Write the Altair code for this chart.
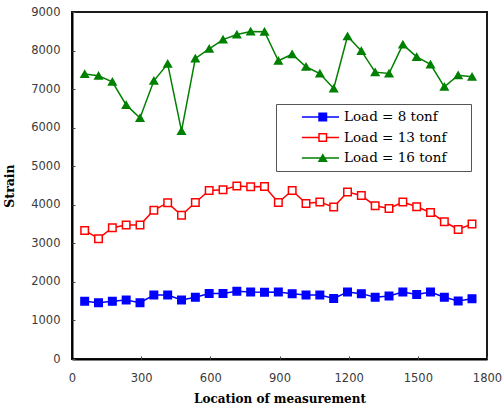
import altair as alt
import pandas as pd

# Measurement locations along the member
locations = [55, 115, 175, 235, 295, 355, 415, 475, 535, 595, 655, 715, 775, 835, 895,
             955, 1015, 1075, 1135, 1195, 1255, 1315, 1375, 1435, 1495, 1555, 1615, 1675, 1735]

# Measured strain for each load case
strain_8 = [1500, 1460, 1495, 1530, 1460, 1660, 1660, 1530, 1600, 1700, 1700, 1760, 1735, 1730, 1735,
            1695, 1660, 1660, 1570, 1735, 1695, 1600, 1635, 1735, 1670, 1735, 1600, 1505, 1565]
strain_13 = [3335, 3120, 3405, 3475, 3475, 3860, 4050, 3730, 4060, 4370, 4390, 4490, 4465, 4475, 4060,
             4370, 4035, 4070, 3940, 4330, 4240, 3975, 3905, 4070, 3950, 3800, 3560, 3360, 3500]
strain_16 = [7390, 7345, 7190, 6590, 6250, 7215, 7655, 5915, 7795, 8045, 8285, 8415, 8495, 8490, 7735,
             7905, 7580, 7405, 7015, 8370, 7990, 7440, 7405, 8155, 7835, 7640, 7060, 7360, 7320]

series_labels = ["Load = 8 tonf", "Load = 13 tonf", "Load = 16 tonf"]
series_keys = ["8", "13", "16"]
line_colors = ["#0000ff", "#ff0000", "#008000"]
marker_fills = ["#0000ff", "#ffffff", "#008000"]
marker_shapes = ["square", "square", "triangle-up"]

x_ticks = [0, 300, 600, 900, 1200, 1500, 1800]
y_ticks = [0, 1000, 2000, 3000, 4000, 5000, 6000, 7000, 8000, 9000]

rows = []
for label, key, values in zip(series_labels, series_keys, [strain_8, strain_13, strain_16]):
    for loc, val in zip(locations, values):
        rows.append({"Location": loc, "Strain": val, "Load": label, "Marker": key})
df = pd.DataFrame(rows)

W, H = 415, 347
LEG_X, LEG_Y = 204, 92

x_scale = alt.Scale(domain=[0, 1800], nice=False, zero=False)
y_scale = alt.Scale(domain=[0, 9000], nice=False, zero=False)

TICK_FONT = "DejaVu Sans"
SERIF = "DejaVu Serif"

base = alt.Chart(df)

# Connecting lines; their legend draws the framed box with line samples and labels
# (blank braille cells pad the right side of the box)
lines = base.mark_line(strokeWidth=1.5).encode(
    x=alt.X("Location:Q", scale=x_scale,
            axis=alt.Axis(values=x_ticks, format="d", title="Location of measurement",
                          titleFont=SERIF, titleFontWeight="bold", titleFontSize=12,
                          titleColor="black", titlePadding=10,
                          labelFont=TICK_FONT, labelFontSize=11.5, labelColor="#3a3a3a",
                          labelPadding=13, labelFlush=False, labelOverlap=False,
                          tickSize=0, domainColor="black", domainWidth=2, grid=False)),
    y=alt.Y("Strain:Q", scale=y_scale,
            axis=alt.Axis(values=y_ticks, format="d", title="Strain",
                          titleFont=SERIF, titleFontWeight="bold", titleFontSize=12.5,
                          titleColor="black", titlePadding=14,
                          labelFont=TICK_FONT, labelFontSize=11.5, labelColor="#3a3a3a",
                          labelPadding=12, labelOverlap=False,
                          tickSize=0, domainColor="black", domainWidth=2, grid=False)),
    color=alt.Color("Load:N", scale=alt.Scale(domain=series_labels, range=line_colors),
                    legend=alt.Legend(title=None, orient="none", legendX=LEG_X, legendY=LEG_Y,
                                      direction="vertical",
                                      symbolType="M-0.28,0H1", symbolSize=58 * 58,
                                      symbolStrokeWidth=1.5,
                                      labelFont=SERIF, labelFontSize=13.5, labelColor="black",
                                      labelOffset=4,
                                      labelExpr="datum.label + '\u2800\u2800'",
                                      clipHeight=18, rowPadding=2.5, padding=4,
                                      strokeColor="#555555")),
)

marker_legend = alt.Legend(title=None, orient="none", legendX=LEG_X, legendY=LEG_Y,
                           direction="vertical", symbolSize=56, symbolStrokeWidth=1.5,
                           symbolOffset=36, labelExpr="''", labelFontSize=13.5,
                           clipHeight=18, rowPadding=2.5, padding=4, zindex=1)

# Markers at each measurement; the extra axes give the inward tick marks
points = base.mark_point(filled=True, size=56, strokeWidth=1.5, opacity=1).encode(
    x=alt.X("Location:Q", scale=x_scale,
            axis=alt.Axis(orient="top", offset=-H, values=x_ticks, labels=False, domain=False,
                          title=None, grid=False, tickSize=3, tickColor="#444444", tickWidth=1)),
    y=alt.Y("Strain:Q", scale=y_scale,
            axis=alt.Axis(orient="right", offset=-W, values=y_ticks, labels=False, domain=False,
                          title=None, grid=False, tickSize=3, tickColor="#444444", tickWidth=1)),
    shape=alt.Shape("Marker:N", scale=alt.Scale(domain=series_keys, range=marker_shapes),
                    legend=marker_legend),
    fill=alt.Fill("Marker:N", scale=alt.Scale(domain=series_keys, range=marker_fills),
                  legend=marker_legend),
    stroke=alt.Stroke("Marker:N", scale=alt.Scale(domain=series_keys, range=line_colors),
                      legend=marker_legend),
)

chart = (
    alt.layer(lines, points)
    .resolve_axis(x="independent", y="independent")
    .properties(width=W, height=H, background="white",
                autosize=alt.AutoSizeParams(type="none"),
                padding={"left": 72, "top": 12, "right": 16, "bottom": 58})
    .configure_view(stroke="#1a1a1a", strokeWidth=2)
)

chart.save("out.html", embed_options={"renderer": "svg", "actions": False})
